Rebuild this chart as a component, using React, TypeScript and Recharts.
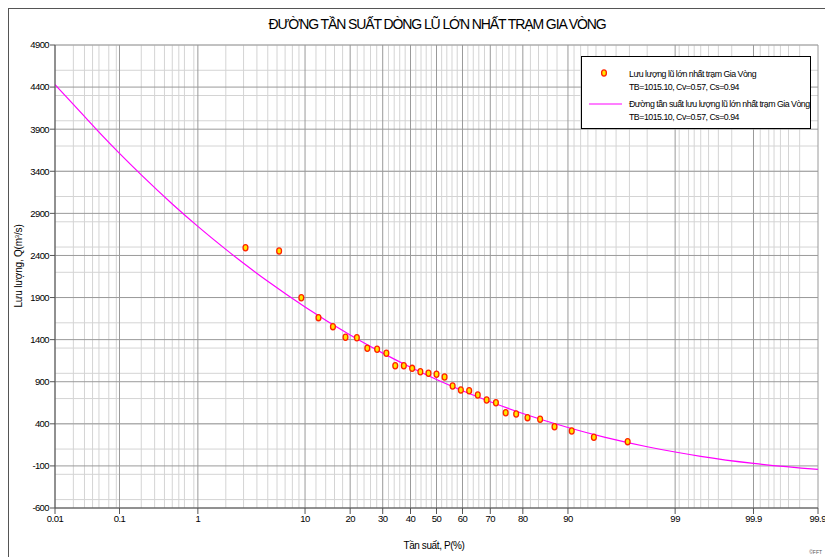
import { ComposedChart, Line, Scatter, XAxis, YAxis, CartesianGrid } from "recharts";

// tần suất (%) của các vạch chính trên trục hoành
const tickP = [0.01, 0.1, 1, 10, 20, 30, 40, 50, 60, 70, 80, 90, 99, 99.9, 99.99];
const tickLabels = ["0.01", "0.1", "1", "10", "20", "30", "40", "50", "60", "70", "80", "90", "99", "99.9", "99.9"];

// vạch lưới phụ của giấy xác suất
const minorP = [
  0.02, 0.03, 0.04, 0.05, 0.06, 0.07, 0.08, 0.09,
  0.2, 0.3, 0.4, 0.5, 0.6, 0.7, 0.8, 0.9,
  2, 3, 4, 5, 6, 7, 8, 9,
  12, 14, 16, 18, 22, 24, 26, 28, 32, 34, 36, 38, 42, 44, 46, 48,
  52, 54, 56, 58, 62, 64, 66, 68, 72, 74, 76, 78, 82, 84, 86, 88,
  91, 92, 93, 94, 95, 96, 97, 98,
  99.1, 99.2, 99.3, 99.4, 99.5, 99.6, 99.7, 99.8,
  99.91, 99.92, 99.93, 99.94, 99.95, 99.96, 99.97, 99.98,
];

const yTicks = [-600, -100, 400, 900, 1400, 1900, 2400, 2900, 3400, 3900, 4400, 4900];
const yMinor = Array.from({ length: 56 }, (_, i) => -600 + i * 100);

// số liệu thực đo
const obsP = [
  3.13, 6.25, 9.38, 12.5, 15.63, 18.75, 21.88, 25, 28.13, 31.25, 34.38,
  37.5, 40.63, 43.75, 46.88, 50, 53.13, 56.25, 59.38, 62.5, 65.63, 68.75,
  71.88, 75, 78.13, 81.25, 84.38, 87.5, 90.63, 93.75, 96.88,
];
const obsQ = [
  2492, 2453, 1898, 1661, 1554, 1428, 1423, 1297, 1285, 1238, 1090,
  1090, 1059, 1019, 1000, 988, 956, 849, 802, 793, 742, 683,
  651, 532, 517, 473, 454, 366, 315, 240, 188,
];

// đường tần suất lý luận
const curveP = [0.01, 0.02, 0.05, 0.1, 0.2, 0.5, 1, 2, 3, 5, 10, 20, 30, 40, 50, 60, 70, 80, 90, 95, 98, 99, 99.5, 99.9, 99.99];
const curveQ = [4430, 4195, 3865, 3612, 3357, 3012, 2745, 2472, 2307, 2093, 1788, 1455, 1240, 1072, 927, 793, 662, 523, 356, 239, 128, 65, 14, -70, -141];

// nghịch đảo hàm phân phối chuẩn (thang giấy xác suất)
function probit(p: number): number {
  const a = [-39.69683028665376, 220.9460984245205, -275.9285104469687, 138.357751867269, -30.66479806614716, 2.506628277459239];
  const b = [-54.47609879822406, 161.5858368580409, -155.6989798598866, 66.80131188771972, -13.28068155288572];
  const c = [-0.007784894002430293, -0.3223964580411365, -2.400758277161838, -2.549732539343734, 4.374664141464968, 2.938163982698783];
  const d = [0.007784695709041462, 0.3224671290700398, 2.445134137142996, 3.754408661907416];
  const lo = 0.02425;
  if (p < lo || p > 1 - lo) {
    const q = Math.sqrt(-2 * Math.log(p < lo ? p : 1 - p));
    const v = (((((c[0] * q + c[1]) * q + c[2]) * q + c[3]) * q + c[4]) * q + c[5]) /
      ((((d[0] * q + d[1]) * q + d[2]) * q + d[3]) * q + 1);
    return p < lo ? v : -v;
  }
  const q = p - 0.5;
  const r = q * q;
  return (((((a[0] * r + a[1]) * r + a[2]) * r + a[3]) * r + a[4]) * r + a[5]) * q /
    (((((b[0] * r + b[1]) * r + b[2]) * r + b[3]) * r + b[4]) * r + 1);
}

const z = (pct: number) => probit(pct / 100);
const xTicks = tickP.map(z);
const xMinor = minorP.map(z);
const zMin = z(0.01);
const zMax = z(99.99);

const obsData = obsP.map((p, i) => ({ z: z(p), q: obsQ[i] }));
const curveData = curveP.map((p, i) => ({ z: z(p), q: curveQ[i] }));

const FONT = "'Liberation Sans', Arial, sans-serif";

const Dot = (props: any) => (
  <ellipse cx={props.cx} cy={props.cy} rx={2.4} ry={3.1} fill="#ffe600" stroke="#ff2200" strokeWidth={1.3} />
);

export default function App() {
  return (
    <div style={{ position: "absolute", left: 0, top: 0, width: 825, height: 557, overflow: "hidden", background: "#fff" }}>
      <div style={{ position: "absolute", left: 8, top: 8, width: 840, height: 570, border: "1px solid #555" }} />
      <ComposedChart width={825} height={557} margin={{ top: 45, right: 7, bottom: 19, left: 0 }}>
        <CartesianGrid stroke="#d4d4d4" strokeWidth={1} verticalValues={xMinor} horizontalValues={yMinor} />
        <CartesianGrid stroke="#9a9a9a" strokeWidth={1} verticalValues={xTicks} horizontalValues={yTicks} />
        <XAxis
          type="number"
          dataKey="z"
          domain={[zMin, zMax]}
          ticks={xTicks}
          allowDataOverflow
          tickFormatter={(v: number) => tickLabels[xTicks.findIndex((t) => Math.abs(t - v) < 1e-6)] ?? ""}
          height={30}
          tickSize={6}
          tickMargin={1}
          stroke="#555"
          tick={{ fontSize: 9.5, fill: "#000", fontFamily: FONT, letterSpacing: -0.5 }}
        />
        <YAxis
          type="number"
          domain={[-600, 4900]}
          ticks={yTicks}
          allowDataOverflow
          width={55}
          tickSize={5}
          tickMargin={1}
          stroke="#555"
          tick={{ fontSize: 9.5, fill: "#000", fontFamily: FONT, letterSpacing: -0.6 }}
        />
        <Line data={curveData} dataKey="q" type="monotone" stroke="#ff00ff" strokeWidth={1.2} dot={false} isAnimationActive={false} />
        <Scatter data={obsData} dataKey="q" shape={Dot} isAnimationActive={false} />
      </ComposedChart>
      <svg width={825} height={557} style={{ position: "absolute", left: 0, top: 0, pointerEvents: "none" }} fontFamily={FONT}>
        <text x={437} y={29} textAnchor="middle" fontSize={14} letterSpacing={-1.1} fill="#000">
          ĐƯỜNG TẦN SUẤT DÒNG LŨ LỚN NHẤT TRẠM GIA VÒNG
        </text>
        <text x={22} y={266} textAnchor="middle" fontSize={10} letterSpacing={-0.2} fill="#000" transform="rotate(-90 22 266)">
          Lưu lượng, Q(m<tspan baselineShift="super" fontSize={6}>3</tspan>/s)
        </text>
        <text x={434} y={549} textAnchor="middle" fontSize={10} letterSpacing={-0.4} fill="#000">
          Tần suất, P(%)
        </text>
        <text x={822} y={554} textAnchor="end" fontSize={5} fill="#555">©FFT</text>
        <rect x={581.5} y={56.5} width={229} height={72} fill="#fff" stroke="#000" strokeWidth={1} />
        <ellipse cx={604} cy={73} rx={2.4} ry={3.1} fill="#ffe600" stroke="#ff2200" strokeWidth={1.3} />
        <text x={629} y={77} fontSize={8.8} letterSpacing={-0.5} fill="#000">Lưu lượng lũ lớn nhất trạm Gia Vòng</text>
        <text x={629} y={90} fontSize={8.8} letterSpacing={-0.5} fill="#000">TB=1015.10, Cv=0.57, Cs=0.94</text>
        <line x1={589} y1={104} x2={622} y2={104} stroke="#ff00ff" strokeWidth={1.2} />
        <text x={629} y={107} fontSize={8.8} letterSpacing={-0.5} fill="#000">Đường tần suất lưu lượng lũ lớn nhất trạm Gia Vòng</text>
        <text x={629} y={120} fontSize={8.8} letterSpacing={-0.5} fill="#000">TB=1015.10, Cv=0.57, Cs=0.94</text>
      </svg>
    </div>
  );
}
